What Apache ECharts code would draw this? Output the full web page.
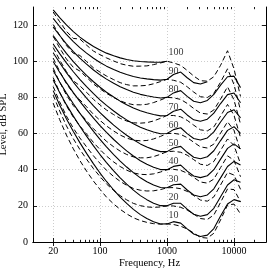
<!DOCTYPE html>
<html><head><meta charset="utf-8">
<script src="https://cdn.jsdelivr.net/npm/echarts@6/dist/echarts.min.js"></script>
<style>html,body{margin:0;padding:0;background:#fff}#c{width:275px;height:273px}</style>
</head><body><div id="c"></div>
<script>
// Frequencies (Hz)
const FREQ = [20,25,31.5,40,50,63,80,100,125,160,200,250,315,400,500,630,800,1000,1250,1600,2000,2500,3150,4000,5000,6300,8000,10000,12500];
const PHONS = [10,20,30,40,50,60,70,80,90,100];
// Solid contours (dB SPL)
const solid10 = [83.75,75.76,68.21,61.14,54.96,49.01,43.24,38.14,33.48,28.77,24.84,21.34,18.05,15.14,12.98,11.18,9.99,10.0,11.26,10.43,7.27,4.45,3.04,3.80,7.46,14.35,20.98,23.43,22.33];
const solid20 = [89.58,82.65,75.98,69.62,64.02,58.55,53.19,48.38,43.94,39.37,35.51,32.00,28.69,25.67,23.43,21.48,20.10,20.0,21.47,21.40,18.15,15.38,14.26,15.14,18.64,25.02,31.52,34.43,33.04];
const solid30 = [94.85,88.52,82.36,76.45,71.26,66.20,61.22,56.76,52.64,48.38,44.78,41.47,38.36,35.50,33.37,31.49,30.11,30.0,31.65,32.04,28.76,26.03,25.05,26.02,29.42,35.48,41.75,44.57,42.55];
const solid40 = [99.85,93.94,88.17,82.63,77.78,73.08,68.48,64.37,60.59,56.70,53.41,50.40,47.58,44.98,43.05,41.34,40.06,40.01,41.82,42.51,39.23,36.51,35.61,36.65,40.01,45.83,51.80,54.28,51.49];
const solid50 = [104.72,99.14,93.69,88.49,83.96,79.61,75.36,71.61,68.17,64.68,61.72,59.04,56.55,54.27,52.59,51.10,49.98,50.0,51.99,52.88,49.62,46.91,46.05,47.15,50.48,56.11,61.76,63.78,60.14];
const solid60 = [109.51,104.23,99.08,94.18,89.96,85.94,82.05,78.65,75.56,72.47,69.86,67.54,65.39,63.45,62.05,60.82,59.89,60.0,62.15,63.19,59.96,57.26,56.42,57.57,60.89,66.36,71.66,73.15,68.63];
const solid70 = [114.26,109.25,104.38,99.78,95.87,92.18,88.64,85.60,82.85,80.17,77.92,75.94,74.16,72.58,71.47,70.50,69.78,70.0,72.32,73.47,70.28,67.58,66.76,67.95,71.26,76.59,81.54,82.46,77.04];
const solid80 = [118.99,114.23,109.65,105.34,101.72,98.36,95.17,92.48,90.09,87.82,85.92,84.31,82.89,81.68,80.86,80.17,79.67,80.0,82.48,83.74,80.59,77.88,77.07,78.31,81.62,86.81,91.41,91.74,85.41];
const solid90 = [123.71,119.20,114.88,110.87,107.55,104.51,101.67,99.33,97.29,95.43,93.89,92.65,91.60,90.76,90.24,89.84,89.55,90.0,92.65,94.00,90.88,88.18,87.38,88.66];
const solid100 = [128.41,124.15,120.11,116.38,113.35,110.65,108.16,106.17,104.48,103.03,101.85,100.97,100.30,99.83,99.62,99.50,99.44,100.0];
// Dashed contours (dB SPL)
const dashed10 = [76.81,67.69,59.17,51.53,45.11,39.21,33.67,29.10,24.81,21.01,18.07,15.56,13.39,11.86,10.86,10.14,9.88,10.0,9.68,8.73,7.19,4.98,2.55,2.16,4.83,12.24,20.43,20.99,15.48];
const dashed20 = [81.30,72.50,64.30,57.10,51.20,45.80,40.54,36.18,32.10,28.47,25.66,23.31,21.36,20.11,19.42,19.14,19.39,20.0,19.94,19.17,17.69,15.45,12.99,12.47,14.96,21.93,29.38,28.98,22.26];
const dashed30 = [86.02,77.56,69.70,62.94,57.58,52.64,47.65,43.53,39.67,36.22,33.55,31.36,29.62,28.63,28.22,28.32,29.00,30.0,30.11,29.47,27.99,25.70,23.20,22.60,24.95,31.57,38.45,37.04,29.14];
const dashed40 = [90.98,82.89,75.36,69.04,64.26,59.74,55.02,51.16,47.53,44.28,41.75,39.72,38.20,37.44,37.27,37.69,38.71,40.0,40.20,39.62,38.10,35.74,33.21,32.57,34.81,41.16,47.66,45.17,36.13];
const dashed50 = [96.21,88.50,81.33,75.44,71.28,67.13,62.67,59.07,55.69,52.66,50.27,48.42,47.09,46.55,46.57,47.24,48.52,50.0,50.20,49.64,48.02,45.57,43.02,42.36,44.55,50.70,57.0,53.39,43.23];
const dashed60 = [101.73,94.43,87.62,82.15,78.65,74.81,70.60,67.29,64.19,61.38,59.16,57.48,56.34,55.98,56.15,57.00,58.42,60.0,60.13,59.52,57.75,55.20,52.64,51.99,54.16,60.21,66.5,61.69,50.45];
const dashed70 = [107.57,100.70,94.26,89.19,86.40,82.81,78.85,75.84,73.02,70.46,68.41,66.92,65.95,65.75,66.01,66.96,68.42,70.0,69.99,69.26,67.29,64.64,62.06,61.47,63.66,69.66,76.1,70.08,57.79];
const dashed80 = [113.74,107.33,101.27,96.60,94.57,91.14,87.41,84.73,82.23,79.93,78.07,76.77,75.96,75.88,76.17,77.13,78.53,80.0,79.76,78.87,76.67,73.88,71.30,70.79,73.03,79.07,85.85,78.54,65.24];
const dashed90 = [120.29,114.37,108.70,104.39,103.19,99.84,96.32,93.99,91.82,89.81,88.15,87.05,86.37,86.39,86.64,87.52,88.73,90.0,89.46,88.36,85.87,82.95,80.36,79.95,82.29,88.43,95.8,87.10,72.82];
const dashed100 = [127.24,121.85,116.58,112.61,112.29,108.91,105.60,103.64,101.84,100.13,98.68,97.79,97.23,97.29,97.43,98.13,99.05,100.0,99.08,97.72,94.91,91.83,89.24,88.97,91.43,97.76,105.8,95.73,80.53];
// Axis ticks
const X_MAJOR = [20,100,1000,10000];
const X_MINOR = [30,40,50,60,70,80,90,200,300,400,500,600,700,800,900,2000,3000,4000,5000,6000,7000,8000,9000,20000];
const Y_TICKS = [0,20,40,60,80,100,120];
const LABEL_FREQ = 1000;

const lg = Math.log10;
const XMIN = lg(10), XMAX = lg(30000);
const FONT = 'Liberation Serif';
const solids = [solid10,solid20,solid30,solid40,solid50,solid60,solid70,solid80,solid90,solid100];
const dashes = [dashed10,dashed20,dashed30,dashed40,dashed50,dashed60,dashed70,dashed80,dashed90,dashed100];
const toPts = arr => arr.map((v,i)=>[lg(FREQ[i]), v]);

const series = [];
dashes.forEach(a => series.push({type:'line', data:toPts(a), symbol:'none', silent:true,
  lineStyle:{color:'#000', width:1, type:[5,3]}, z:2}));
solids.forEach(a => series.push({type:'line', data:toPts(a), symbol:'none', silent:true,
  lineStyle:{color:'#000', width:1.1}, z:3}));
series.push({type:'scatter', data:PHONS.map(p=>[lg(LABEL_FREQ), p]), symbolSize:0, silent:true, z:4,
  label:{show:true, position:'inside', align:'left', verticalAlign:'middle', offset:[1.5,-8.4],
    color:'#000', fontFamily:FONT, fontSize:10,
    formatter:p=>String(PHONS[p.dataIndex])}});

const tickStyle = {color:'#000', width:0.9};
const common = {min:XMIN, max:XMAX, type:'value'};
const gridBox = {left:33, right:9, top:7, bottom:31, containLabel:false, outerBoundsMode:'none'};
const option = {
  animation:false,
  grid:[Object.assign({}, gridBox), Object.assign({}, gridBox)],
  xAxis:[
    Object.assign({gridIndex:0, position:'bottom', name:'Frequency, Hz', nameLocation:'middle', nameGap:16,
      nameMoveOverlap:false,
      nameTextStyle:{fontFamily:FONT, fontSize:10.5, color:'#000'},
      axisLine:{show:true, lineStyle:{color:'#000', width:1}},
      axisTick:{show:true, inside:true, length:4, lineStyle:tickStyle, customValues:X_MAJOR.map(lg)},
      axisLabel:{show:true, margin:4, color:'#000', fontFamily:FONT, fontSize:10, customValues:X_MAJOR.map(lg),
        formatter:v=>String(Math.round(Math.pow(10,v)))},
      splitLine:{show:true, lineStyle:{color:'#c0c0c0', width:0.8, type:[1,2]}}}, common),
    Object.assign({gridIndex:0, position:'top',
      axisLine:{show:true, lineStyle:{color:'#000', width:1}},
      axisTick:{show:true, inside:true, length:4, lineStyle:tickStyle, customValues:X_MAJOR.map(lg)},
      axisLabel:{show:false}, splitLine:{show:false}}, common),
    Object.assign({gridIndex:1, position:'bottom', axisLine:{show:false},
      axisTick:{show:true, inside:true, length:2.2, lineStyle:tickStyle, customValues:X_MINOR.map(lg)},
      axisLabel:{show:false}, splitLine:{show:false}}, common),
    Object.assign({gridIndex:1, position:'top', axisLine:{show:false},
      axisTick:{show:true, inside:true, length:2.2, lineStyle:tickStyle, customValues:X_MINOR.map(lg)},
      axisLabel:{show:false}, splitLine:{show:false}}, common)
  ],
  yAxis:[
    {gridIndex:0, type:'value', position:'left', min:0, max:130, interval:20,
      name:'Level, dB SPL', nameLocation:'middle', nameGap:24, nameRotate:90, nameMoveOverlap:false,
      nameTextStyle:{fontFamily:FONT, fontSize:10.5, color:'#000'},
      axisLine:{show:true, lineStyle:{color:'#000', width:1}},
      axisTick:{show:true, inside:true, length:4, lineStyle:tickStyle, customValues:Y_TICKS},
      axisLabel:{show:true, margin:5, color:'#000', fontFamily:FONT, fontSize:10, customValues:Y_TICKS},
      splitLine:{show:true, lineStyle:{color:'#c0c0c0', width:0.8, type:[1,2]}}},
    {gridIndex:0, type:'value', position:'right', min:0, max:130, interval:20,
      axisLine:{show:true, lineStyle:{color:'#000', width:1}},
      axisTick:{show:true, inside:true, length:4, lineStyle:tickStyle, customValues:Y_TICKS},
      axisLabel:{show:false}, splitLine:{show:false}},
    {gridIndex:1, type:'value', min:0, max:130, show:false}
  ],
  series: series.map(s => Object.assign({xAxisIndex:0, yAxisIndex:0}, s))
};
echarts.init(document.getElementById('c'), null, {renderer:'canvas'}).setOption(option);
</script></body></html>
